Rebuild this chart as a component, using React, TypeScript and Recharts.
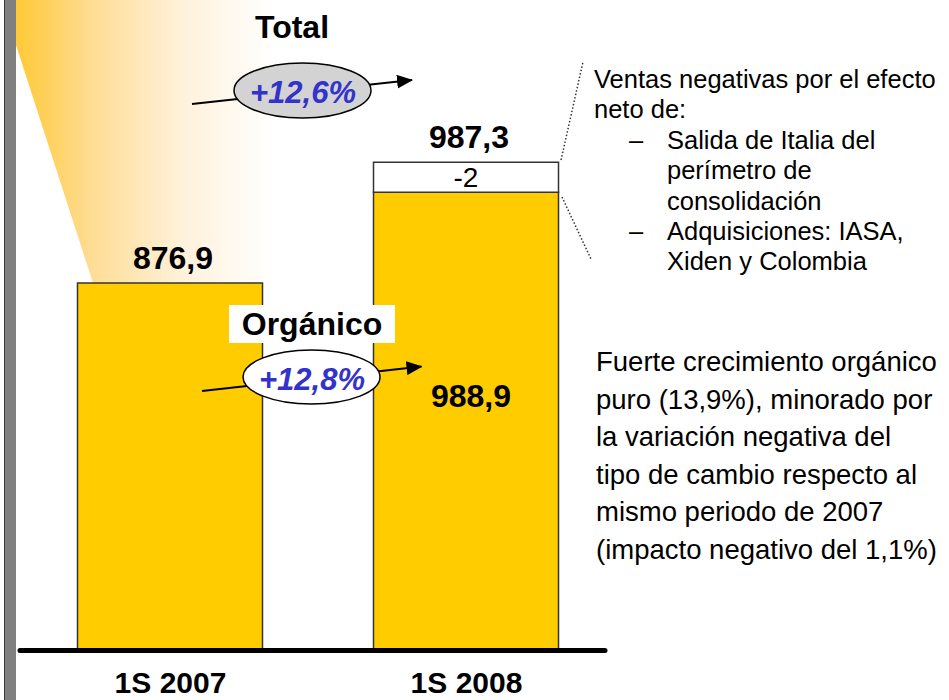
import React from 'react';
import { BarChart, Bar, XAxis, YAxis, LabelList } from 'recharts';

// ---- data ----
const categories = ['1S 2007', '1S 2008'];
const organicSales = [876.9, 988.9];
const adjustmentDrawn = [0, 37]; // drawn size of the "-2" adjustment block
const totalLabels = ['876,9', '987,3'];
const insideLabels = ['', '988,9'];
const adjustmentLabels = ['', '-2'];
const yDomain: [number, number] = [423.7, 1102.9];

const totalTitle = 'Total';
const totalGrowth = '+12,6%';
const organicTitle = 'Orgánico';
const organicGrowth = '+12,8%';

const noteTopIntro = ['Ventas negativas por el efecto', 'neto de:'];
const noteTopBullets = [
  ['Salida de Italia del', 'perímetro de', 'consolidación'],
  ['Adquisiciones: IASA,', 'Xiden y Colombia'],
];
const noteBottom = [
  'Fuerte crecimiento orgánico',
  'puro (13,9%), minorado por',
  'la variación negativa del',
  'tipo de cambio respecto al',
  'mismo periodo de 2007',
  '(impacto negativo del 1,1%)',
];

const data = categories.map((c, i) => ({
  cat: c,
  organic: organicSales[i],
  adj: adjustmentDrawn[i],
  organicTop: adjustmentDrawn[i] > 0 ? '' : totalLabels[i],
  adjTop: adjustmentDrawn[i] > 0 ? totalLabels[i] : '',
  insideLabel: insideLabels[i],
  adjLabel: adjustmentLabels[i],
}));

const FONT = '"Liberation Sans", Arial, Helvetica, sans-serif';

const TopLabel = (p: any) =>
  p.value ? (
    <text x={p.x + p.width / 2 + 3} y={p.y - 14} textAnchor="middle" fontSize={32} fontWeight="bold" fill="#000" fontFamily={FONT}>
      {p.value}
    </text>
  ) : null;

const InsideLabel = (p: any) =>
  p.value ? (
    <text x={p.x + p.width / 2 + 5} y={p.y + 215} textAnchor="middle" fontSize={32} fontWeight="bold" fill="#000" fontFamily={FONT}>
      {p.value}
    </text>
  ) : null;

const AdjLabel = (p: any) =>
  p.value ? (
    <text x={p.x + p.width / 2} y={p.y + p.height / 2 + 10} textAnchor="middle" fontSize={28} fill="#000" fontFamily={FONT}>
      {p.value}
    </text>
  ) : null;

const CatTick = (p: any) => (
  <text x={p.x + 1} y={p.y + 43} textAnchor="middle" fontSize={30} fontWeight="bold" fill="#000" fontFamily={FONT}>
    {p.payload.value}
  </text>
);

export default function App() {
  const lh1 = 30.4;
  let row = 0;
  const topLines: React.ReactNode[] = [];
  noteTopIntro.forEach((t) => {
    topLines.push(
      <text key={'i' + row} x={594} y={88 + row * lh1} fontSize={25.5}>{t}</text>
    );
    row++;
  });
  noteTopBullets.forEach((b, bi) => {
    b.forEach((t, li) => {
      if (li === 0) {
        topLines.push(
          <text key={'d' + bi} x={629} y={88 + row * lh1} fontSize={25.5}>–</text>
        );
      }
      topLines.push(
        <text key={'b' + row} x={667} y={88 + row * lh1} fontSize={25.5}>{t}</text>
      );
      row++;
    });
  });

  return (
    <div style={{ position: 'absolute', left: 0, top: 0, width: 949, height: 700, background: '#fff', fontFamily: FONT }}>
      {/* background decoration */}
      <svg width={949} height={700} style={{ position: 'absolute', left: 0, top: 0 }}>
        <defs>
          <linearGradient id="wedge" gradientUnits="userSpaceOnUse" x1={16} y1={0} x2={275} y2={0}>
            <stop offset="0" stopColor="#FFC936" />
            <stop offset="0.3" stopColor="#FEDD96" />
            <stop offset="0.65" stopColor="#FFF2DC" />
            <stop offset="1" stopColor="#FFFFFF" />
          </linearGradient>
        </defs>
        <polygon points="16,0 600,0 262,283 93,283 16,45" fill="url(#wedge)" />
        <rect x={4} y={0} width={12} height={700} fill="#808080" />
        <line x1={4.5} y1={0} x2={4.5} y2={700} stroke="#3a3a3a" strokeWidth={1} />
      </svg>

      <div style={{ position: 'absolute', left: 0, top: 0 }}>
        <BarChart
          width={949}
          height={700}
          data={data}
          margin={{ top: 100, right: 335.5, bottom: 0, left: 21.5 }}
          barCategoryGap={0}
        >
          <YAxis hide type="number" domain={yDomain} allowDataOverflow />
          <XAxis
            dataKey="cat"
            height={50}
            axisLine={false}
            tickLine={false}
            tickSize={0}
            tickMargin={0}
            tick={<CatTick />}
            interval={0}
          />
          <Bar dataKey="organic" stackId="a" barSize={185} fill="#FFCC00" stroke="#333" strokeWidth={1.5} isAnimationActive={false}>
            <LabelList dataKey="insideLabel" content={InsideLabel} />
            <LabelList dataKey="organicTop" content={TopLabel} />
          </Bar>
          <Bar dataKey="adj" stackId="a" barSize={185} fill="#FFFFFF" stroke="#333" strokeWidth={1.5} isAnimationActive={false}>
            <LabelList dataKey="adjLabel" content={AdjLabel} />
            <LabelList dataKey="adjTop" content={TopLabel} />
          </Bar>
        </BarChart>
      </div>

      {/* foreground annotations */}
      <svg width={949} height={700} style={{ position: 'absolute', left: 0, top: 0, pointerEvents: 'none' }} fontFamily={FONT}>
        <defs>
          <marker id="arrow" viewBox="0 0 16 14" refX={15} refY={7} markerWidth={16} markerHeight={14} markerUnits="userSpaceOnUse" orient="auto">
            <path d="M0,0 L16,7 L0,14 z" fill="#000" />
          </marker>
        </defs>

        {/* baseline */}
        <line x1={20} y1={650.5} x2={605} y2={650.5} stroke="#000" strokeWidth={5} strokeLinecap="round" />

        {/* Total */}
        <text x={292} y={38} textAnchor="middle" fontSize={32} fontWeight="bold" fill="#000">{totalTitle}</text>
        <line x1={192} y1={104} x2={412} y2={80} stroke="#000" strokeWidth={2} markerEnd="url(#arrow)" />
        <ellipse cx={302.5} cy={90.5} rx={68.5} ry={27.5} fill="#D3D3D3" stroke="#000" strokeWidth={1.5} />
        <text x={303} y={103} textAnchor="middle" fontSize={31} fontWeight="bold" fontStyle="italic" fill="#3333CC">{totalGrowth}</text>

        {/* Orgánico */}
        <rect x={229} y={305} width={166} height={38} fill="#FFFFFF" />
        <text x={312} y={335} textAnchor="middle" fontSize={32} fontWeight="bold" fill="#000">{organicTitle}</text>
        <line x1={202} y1={391} x2={421.5} y2={366.5} stroke="#000" strokeWidth={2} markerEnd="url(#arrow)" />
        <ellipse cx={311.5} cy={377} rx={68.5} ry={27} fill="#FFFFFF" stroke="#000" strokeWidth={1.5} />
        <text x={312} y={390} textAnchor="middle" fontSize={31} fontWeight="bold" fontStyle="italic" fill="#3333CC">{organicGrowth}</text>

        {/* dotted connectors */}
        <line x1={561} y1={160} x2={583} y2={62} stroke="#333" strokeWidth={1.5} strokeDasharray="1.5 2" />
        <line x1={562} y1={197} x2={591} y2={259} stroke="#333" strokeWidth={1.5} strokeDasharray="1.5 2" />

        {/* notes */}
        <g fill="#000">{topLines}</g>
        <g fill="#000">
          {noteBottom.map((t, i) => (
            <text key={i} x={596} y={371 + i * 37.6} fontSize={27.5}>{t}</text>
          ))}
        </g>
      </svg>
    </div>
  );
}
